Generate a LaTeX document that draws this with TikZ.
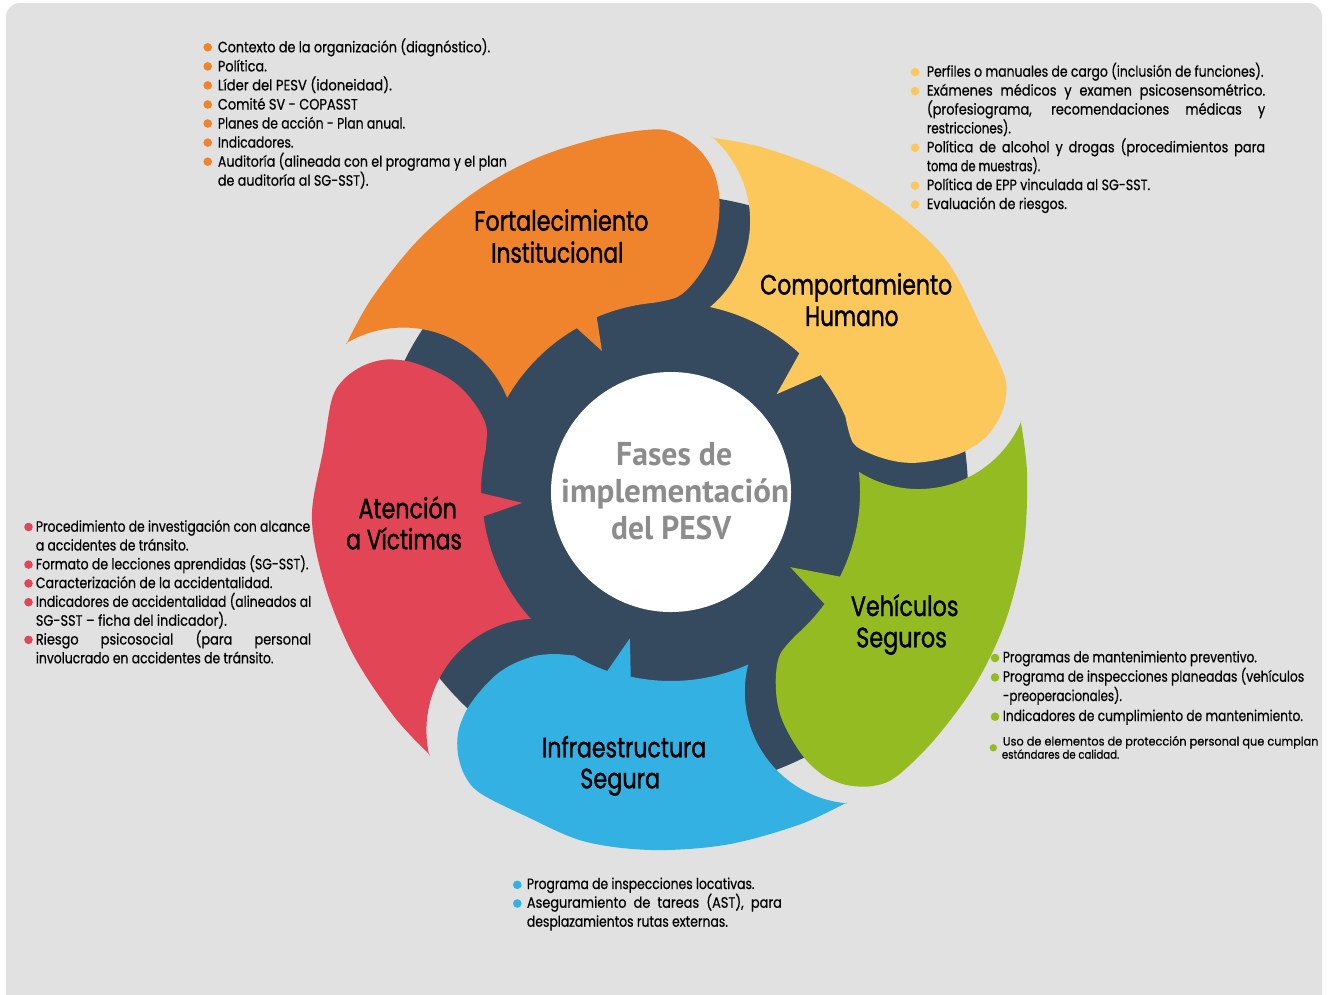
\documentclass[tikz,border=0pt]{standalone}
\usepackage{fontspec}
\usepackage{graphicx}
\setmainfont{Poppins}[FakeStretch=0.86, FakeBold=0.5]
\newfontfamily\labfamily{Poppins}[FakeStretch=0.86, FakeBold=1.3]
\newfontfamily\ctrfamily{PT Sans}
\definecolor{cOr}{HTML}{F0842C}
\definecolor{cYe}{HTML}{FCC75B}
\definecolor{cGr}{HTML}{95BB22}
\definecolor{cBl}{HTML}{34B1E3}
\definecolor{cRe}{HTML}{E24556}
\definecolor{cDk}{HTML}{354A5F}
\definecolor{cBg}{HTML}{E1E1E1}
\definecolor{cTx}{HTML}{8C8C8C}
\newcommand{\fitw}[2]{\resizebox{#1pt}{\height}{#2}}
\newcommand{\jus}[2]{\makebox[#1pt][s]{#2}}
\newcommand{\ftxt}{\fontsize{15}{19}\selectfont}
\newcommand{\fsml}{\fontsize{12}{10}\selectfont}
\newcommand{\flab}{\labfamily\fontsize{28}{32}\selectfont}
\newcommand{\fctr}{\ctrfamily\bfseries\fontsize{33}{37}\selectfont}
% #1 colour, #2 rotation, #3 tooth base 1, #4 tooth tip angle, #5 tip radius, #6 tooth base 2,
% #7 head angle offset, #8 head radial shift, #9 head scale
\newcommand{\petal}[9]{%
\begin{scope}[shift={(671,-492)}, rotate=#2]
\begin{scope}[rotate=#7, shift={(97:{272+#8})}, scale=#9, shift={(277:272)}]
\coordinate (h0) at (101:361.5);
\coordinate (h1) at (92.5:363);
\coordinate (h2) at (88.6:357);
\coordinate (h3) at (85.2:343);
\coordinate (h4) at (82.6:325);
\coordinate (h5) at (80.9:303);
\coordinate (h6) at (80.1:279);
\coordinate (h7) at (80.0:253);
\coordinate (h8) at (81.1:232);
\coordinate (h9) at (84.0:210);
\coordinate (h10) at (88.2:195);
\end{scope}
\fill[#1] plot[smooth, tension=0.55] coordinates {(155.5:356.8) (147:356.5) (135:357) (123:358.5) (112:360) (h0) (h1) (h2) (h3) (h4) (h5) (h6) (h7) (h8) (h9) (h10) (95.4:190)}
  arc[start angle=95.4, end angle=#3, radius=190] -- (#4:#5) -- (#6:189)
  arc[start angle=#6, end angle=150.1, radius=189]
  arc[start angle=21.9, end angle=121, radius=112] -- cycle;
\end{scope}}
\begin{document}
\begin{tikzpicture}[x=1pt,y=1pt,
  txt/.style={anchor=base west, inner sep=0pt, font=\ftxt},
  sml/.style={anchor=base west, inner sep=0pt, font=\fsml},
  lab/.style={anchor=base west, inner sep=0pt, font=\flab},
  ctr/.style={anchor=base west, inner sep=0pt, font=\fctr, text=cTx}]
\useasboundingbox (0,0) rectangle (1332,-994);
\clip (0,0) rectangle (1332,-994);
\fill[white] (0,0) rectangle (1332,-994);
\fill[cBg, rounded corners=14pt] (6,-3) rectangle (1322,-1012);

% dark ring
\fill[cDk] (671,-492) circle (297);
% petals
\petal{cOr}{0}{113.0}{116.1}{157}{119.9}{0}{0}{1}
\petal{cYe}{-72}{110.0}{114.8}{144}{119.2}{-1}{-8}{0.98}
\petal{cGr}{-144}{107.9}{111.8}{141}{117.4}{0}{0}{1}
\petal{cBl}{-216}{106.4}{110.3}{152}{113.7}{1}{0}{0.93}
\petal{cRe}{-288}{108.3}{112.2}{149}{115.4}{0}{-5}{0.93}
% centre
\fill[white] (671,-492) circle (120);
\node[ctr] (c1) at (616,-465) {\fitw{116}{Fases de}};
\node[ctr] (c2) at (561,-502) {\fitw{228}{implementación}};
\node[ctr] (c3) at (611,-539) {\fitw{120}{del PESV}};

% petal labels
\node[lab] (l1a) at (474,-230.7) {\fitw{174.3}{Fortalecimiento}};
\node[lab] (l1b) at (491,-262.7) {\fitw{132.3}{Institucional}};
\node[lab] (l2a) at (760,-294.5) {\fitw{192}{Comportamiento}};
\node[lab] (l2b) at (805,-326) {\fitw{93.3}{Humano}};
\node[lab] (l3a) at (850.7,-616) {\fitw{107.6}{Vehículos}};
\node[lab] (l3b) at (856,-647.3) {\fitw{90.7}{Seguros}};
\node[lab] (l4a) at (541.7,-757.3) {\fitw{164.3}{Infraestructura}};
\node[lab] (l4b) at (580,-788.3) {\fitw{80}{Segura}};
\node[lab] (l5a) at (358.3,-518.3) {\fitw{98.4}{Atención}};
\node[lab] (l5b) at (346,-549.3) {\fitw{115.7}{a Víctimas}};

% orange list
\foreach \yy in {52.3,71.4,90.4,109.5,128.5,147.6,166.7} \fill[cOr] (207.7,-\yy+5) circle (4.3);
\node[txt] (o1) at (217.7,-52.3) {\fitw{272.3}{Contexto de la organización (diagnóstico).}};
\node[txt] (o2) at (217.7,-71.4) {\fitw{49}{Política.}};
\node[txt] (o3) at (217.7,-90.4) {\fitw{174}{Líder del PESV (idoneidad).}};
\node[txt] (o4) at (217.7,-109.5) {\fitw{140}{Comité SV - COPASST}};
\node[txt] (o5) at (217.7,-128.5) {\fitw{187.3}{Planes de acción - Plan anual.}};
\node[txt] (o6) at (217.7,-147.6) {\fitw{75.6}{Indicadores.}};
\node[txt] (o7) at (217.7,-166.7) {\fitw{289}{Auditoría (alineada con el programa y el plan}};
\node[txt] (o8) at (217.7,-185.7) {\fitw{150.6}{de auditoría al SG-SST).}};

% yellow list
\foreach \yy in {76.7,95.6,152.3,190.1,209} \fill[cYe] (915,-\yy+4.5) circle (4.3);
\node[txt] (y1) at (926.7,-76.7) {\fitw{336.6}{Perfiles o manuales de cargo (inclusión de funciones).}};
\node[txt] (y2) at (926.7,-95.6) {\jus{338.3}{Exámenes médicos y examen psicosensométrico.}};
\node[txt] (y3) at (926.7,-114.5) {\jus{338.3}{(profesiograma, recomendaciones médicas y}};
\node[txt] (y4) at (926.7,-133.4) {\fitw{84}{restricciones).}};
\node[txt] (y5) at (926.7,-152.3) {\jus{338.3}{Política de alcohol y drogas (procedimientos para}};
\node[txt] (y6) at (926.7,-171.2) {\fitw{113.3}{toma de muestras).}};
\node[txt] (y7) at (926.7,-190.1) {\fitw{223.3}{Política de EPP vinculada al SG-SST.}};
\node[txt] (y8) at (926.7,-209) {\fitw{140}{Evaluación de riesgos.}};

% red list
\foreach \yy in {531.7,569.3,588.1,606.9,644.5} \fill[cRe] (28.5,-\yy+4.7) circle (4.3);
\node[txt] (r1) at (35.7,-531.7) {\fitw{274.3}{Procedimiento de investigación con alcance}};
\node[txt] (r2) at (35.7,-550.5) {\fitw{152.6}{a accidentes de tránsito.}};
\node[txt] (r3) at (35.7,-569.3) {\fitw{272.6}{Formato de lecciones aprendidas (SG-SST).}};
\node[txt] (r4) at (35.7,-588.1) {\fitw{236.6}{Caracterización de la accidentalidad.}};
\node[txt] (r5) at (35.7,-606.9) {\fitw{275.3}{Indicadores de accidentalidad (alineados al}};
\node[txt] (r6) at (35.7,-625.7) {\fitw{191}{SG-SST – ficha del indicador).}};
\node[txt] (r7) at (35.7,-644.5) {\jus{275.3}{Riesgo psicosocial (para personal}};
\node[txt] (r8) at (35.7,-663.3) {\fitw{237.6}{involucrado en accidentes de tránsito.}};

% green list
\foreach \yy in {662.3,681.7,721} \fill[cGr] (995,-\yy+4.3) circle (4.3);
\fill[cGr] (993.3,-747.8) circle (3.7);
\node[txt] (g1) at (1002.7,-662.3) {\fitw{254}{Programas de mantenimiento preventivo.}};
\node[txt] (g2) at (1002.7,-681.7) {\fitw{301.3}{Programa de inspecciones planeadas (vehículos}};
\node[txt] (g3) at (1002.7,-701) {\fitw{119}{-preoperacionales).}};
\node[txt] (g4) at (1002.7,-721) {\fitw{300}{Indicadores de cumplimiento de mantenimiento.}};
\node[sml] (g5) at (1002.7,-745.5) {\fitw{315.6}{Uso de elementos de protección personal que cumplan}};
\node[sml] (g6) at (1001.7,-758.7) {\fitw{117.3}{estándares de calidad.}};

% blue list
\foreach \yy in {889,907.7} \fill[cBl] (517.3,-\yy+4.2) circle (4.3);
\node[txt] (b1) at (526.7,-889) {\fitw{227.6}{Programa de inspecciones locativas.}};
\node[txt] (b2) at (526.7,-907.7) {\jus{255}{Aseguramiento de tareas (AST), para}};
\node[txt] (b3) at (526.7,-926.7) {\fitw{201}{desplazamientos rutas externas.}};
\end{tikzpicture}
\end{document}
